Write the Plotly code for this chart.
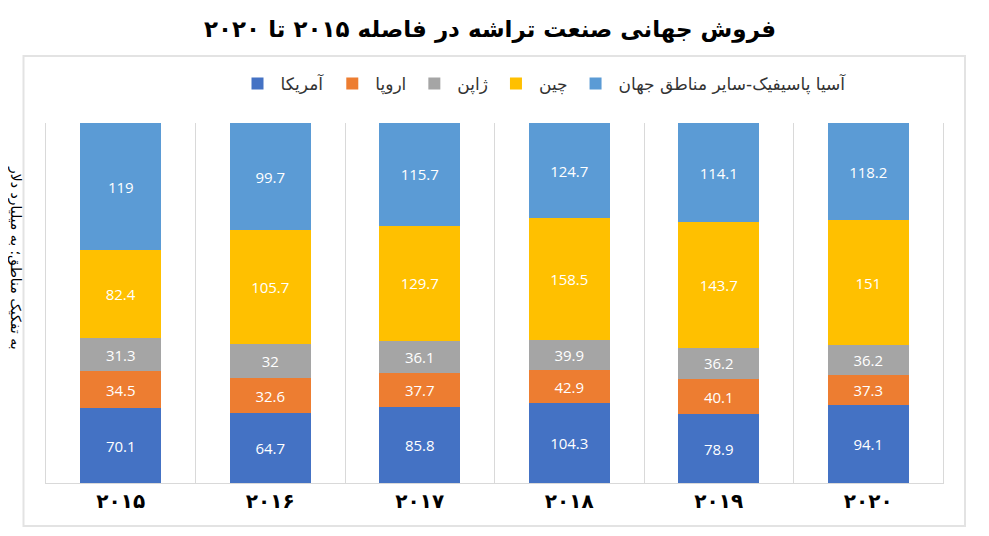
import plotly.graph_objects as go

# Data (billion USD)
years = ["۲۰۱۵", "۲۰۱۶", "۲۰۱۷", "۲۰۱۸", "۲۰۱۹", "۲۰۲۰"]
america = [70.1, 64.7, 85.8, 104.3, 78.9, 94.1]
europe = [34.5, 32.6, 37.7, 42.9, 40.1, 37.3]
japan = [31.3, 32, 36.1, 39.9, 36.2, 36.2]
china = [82.4, 105.7, 129.7, 158.5, 143.7, 151]
asia_rest = [119, 99.7, 115.7, 124.7, 114.1, 118.2]

series = [
    ("آمریکا", america, "#4472C4"),
    ("اروپا", europe, "#ED7D31"),
    ("ژاپن", japan, "#A5A5A5"),
    ("چین", china, "#FFC000"),
    ("آسیا پاسیفیک-سایر مناطق جهان", asia_rest, "#5B9BD5"),
]

fa_font = "DejaVu Sans"
# the page body adds an 8px offset, so pixel positions are shifted back by it
off = 8

fig = go.Figure()
for name, vals, color in series:
    fig.add_trace(go.Bar(
        x=years,
        y=vals,
        name=name,
        marker=dict(color=color, line=dict(width=0)),
        text=[str(v) for v in vals],
        textposition="inside",
        insidetextanchor="middle",
        textangle=0,
        textfont=dict(color="white", size=15, family="Open Sans"),
        hoverinfo="x+y+name",
    ))

fig.update_layout(
    barmode="stack",
    barnorm="percent",
    bargap=0.46,
    width=989,
    height=536,
    margin=dict(l=46 - off, r=46 + off, t=123 - off, b=53 + off),
    paper_bgcolor="white",
    plot_bgcolor="white",
    title=dict(
        text="<b>فروش جهانی صنعت تراشه در فاصله ۲۰۱۵ تا ۲۰۲۰</b>",
        x=(490 - off) / 989, xanchor="center",
        y=1 - (29 - off) / 536, yanchor="middle",
        font=dict(family=fa_font, size=23, color="black"),
    ),
    legend=dict(
        orientation="h",
        x=(543 - 46) / 897, xanchor="center",
        y=(483 - 84) / 360, yanchor="middle",
        font=dict(family=fa_font, size=17, color="#333333"),
        itemwidth=36,
        traceorder="normal",
        itemclick=False,
    ),
    showlegend=True,
)

fig.update_xaxes(
    type="category",
    tickson="boundaries",
    showgrid=True,
    gridcolor="#D9D9D9",
    showline=True,
    linecolor="#D9D9D9",
    ticks="",
    tickfont=dict(family=fa_font, size=20, color="black", weight="bold"),
)
fig.update_yaxes(
    range=[0, 100],
    showticklabels=False,
    showgrid=False,
    zeroline=False,
    showline=True,
    mirror=True,
    linecolor="#D9D9D9",
)

# outer chart frame
fig.add_shape(
    type="rect", xref="paper", yref="paper",
    x0=(23.5 - 46) / 897, x1=(965 - 46) / 897,
    y0=(483 - 526) / 360, y1=(483 - 56) / 360,
    line=dict(color="#E3E3E3", width=2),
    layer="below",
)

# y axis caption, reading top to bottom
fig.add_annotation(
    text="به تفکیک مناطق؛ به میلیارد دلار",
    xref="paper", yref="paper",
    x=(16 - 46) / 897, y=(483 - 258) / 360,
    xanchor="center", yanchor="middle",
    textangle=90,
    showarrow=False,
    font=dict(family=fa_font, size=14, color="black"),
)

fig.write_html("out.html")
